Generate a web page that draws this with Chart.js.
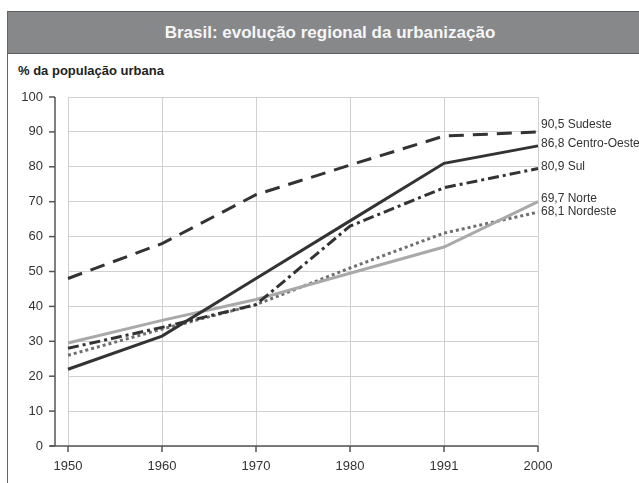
<!DOCTYPE html>
<html>
<head>
<meta charset="utf-8">
<script src="https://cdn.jsdelivr.net/npm/chart.js@4.4.1/dist/chart.umd.min.js"></script>
<style>
  html, body { margin: 0; padding: 0; background: #fff; width: 639px; height: 483px; overflow: hidden; }
  #wrap { position: relative; width: 639px; height: 483px; font-family: "Liberation Sans", Arial, sans-serif; }
  #leftline { position: absolute; left: 7px; top: 11px; width: 1px; height: 472px; background: #666; }
  #titlebar { position: absolute; left: 7px; top: 11px; width: 632px; height: 41px; background: #87888a;
    border-top: 1px solid #5e5f61; border-bottom: 1px solid #5e5f61; box-sizing: content-box; }
  #title { position: absolute; left: 7px; width: 632px; top: 11px; height: 43px; line-height: 43px; text-align: center;
    color: #f6f6f6; font-weight: bold; font-size: 17px; padding-left: 14px; box-sizing: border-box; }
  #ylabel { position: absolute; left: 18px; top: 63px; font-size: 13px; font-weight: bold; color: #222; }
  #c { position: absolute; left: 0; top: 0; }
</style>
</head>
<body>
<div id="wrap">
  <div id="titlebar"></div>
  <div id="leftline"></div>
  <div id="title">Brasil: evolução regional da urbanização</div>
  <div id="ylabel">% da população urbana</div>
  <canvas id="c" width="639" height="483"></canvas>
</div>
<script>
// ---- data ----
const years = ["1950", "1960", "1970", "1980", "1991", "2000"];
const yTicks = [0, 10, 20, 30, 40, 50, 60, 70, 80, 90, 100];
const sudeste     = [48, 58, 72, 80.5, 88.8, 90];
const centroOeste = [22, 31.5, 48, 64.5, 81, 86];
const sul         = [28, 34, 40.5, 63, 74, 79.5];
const norte       = [29.5, 36, 42, 49.5, 57, 70];
const nordeste    = [26, 33.5, 40.5, 51, 61, 67];
const endLabels   = ["90,5 Sudeste", "86,8 Centro-Oeste", "80,9 Sul", "69,7 Norte", "68,1 Nordeste"];
const endOffsets  = [-7, -2, -1.5, -3, 0];

const axisPlugin = {
  id: 'axisPlugin',
  afterDraw(chart) {
    const ctx = chart.ctx;
    const xs = chart.scales.x, ys = chart.scales.y;
    const ca = chart.chartArea;
    const axX = ca.left - 13;
    ctx.save();
    ctx.strokeStyle = '#555';
    ctx.lineWidth = 1.5;
    ctx.beginPath();
    ctx.moveTo(axX, ys.getPixelForValue(100));
    ctx.lineTo(axX, ys.getPixelForValue(0));
    ctx.stroke();
    yTicks.forEach(v => {
      const y = ys.getPixelForValue(v);
      ctx.beginPath(); ctx.moveTo(axX - 6, y); ctx.lineTo(axX, y); ctx.stroke();
    });
    const y0 = ys.getPixelForValue(0);
    ctx.beginPath();
    ctx.moveTo(axX - 5, y0);
    ctx.lineTo(xs.getPixelForValue(years.length - 1), y0);
    ctx.stroke();
    years.forEach((_, i) => {
      const x = xs.getPixelForValue(i);
      ctx.beginPath(); ctx.moveTo(x, y0); ctx.lineTo(x, y0 + 6); ctx.stroke();
    });
    ctx.fillStyle = '#333';
    ctx.font = '12px "Liberation Sans", Arial, sans-serif';
    ctx.textBaseline = 'middle';
    ctx.textAlign = 'left';
    const xEnd = xs.getPixelForValue(years.length - 1) + 3;
    chart.data.datasets.forEach((ds, i) => {
      const last = ds.data[ds.data.length - 1];
      ctx.fillText(endLabels[i], xEnd, ys.getPixelForValue(last) + endOffsets[i]);
    });
    ctx.restore();
  }
};

new Chart(document.getElementById('c'), {
  type: 'line',
  data: {
    labels: years,
    datasets: [
      { label: 'Sudeste', data: sudeste, borderColor: '#333333', borderWidth: 3, borderDash: [15, 9] },
      { label: 'Centro-Oeste', data: centroOeste, borderColor: '#333333', borderWidth: 3 },
      { label: 'Sul', data: sul, borderColor: '#333333', borderWidth: 3, borderDash: [11, 4, 3, 4] },
      { label: 'Norte', data: norte, borderColor: '#a9a9a9', borderWidth: 3 },
      { label: 'Nordeste', data: nordeste, borderColor: '#6f6f6f', borderWidth: 3, borderDash: [3, 3] }
    ]
  },
  options: {
    responsive: false,
    animation: false,
    devicePixelRatio: 1,
    layout: { padding: { left: 0, top: 97, right: 101, bottom: 0 } },
    elements: { point: { radius: 0 }, line: { tension: 0, borderCapStyle: 'butt', borderJoinStyle: 'miter' } },
    plugins: { legend: { display: false }, tooltip: { enabled: false }, title: { display: false } },
    scales: {
      x: {
        type: 'category',
        offset: false,
        afterFit(s) { s.height = 37; },
        grid: { color: '#d0d0d0', lineWidth: 1, drawTicks: false },
        border: { display: false },
        ticks: { padding: 13, color: '#333', font: { size: 13, family: '"Liberation Sans", Arial, sans-serif' }, maxRotation: 0 }
      },
      y: {
        min: 0, max: 100,
        afterFit(s) { s.width = 68; },
        afterBuildTicks(s) { s.ticks = yTicks.map(v => ({ value: v })); },
        grid: { color: '#d0d0d0', lineWidth: 1, drawTicks: false },
        border: { display: false },
        ticks: { padding: 25, color: '#333', font: { size: 13, family: '"Liberation Sans", Arial, sans-serif' } }
      }
    }
  },
  plugins: [axisPlugin]
});
</script>
</body>
</html>
